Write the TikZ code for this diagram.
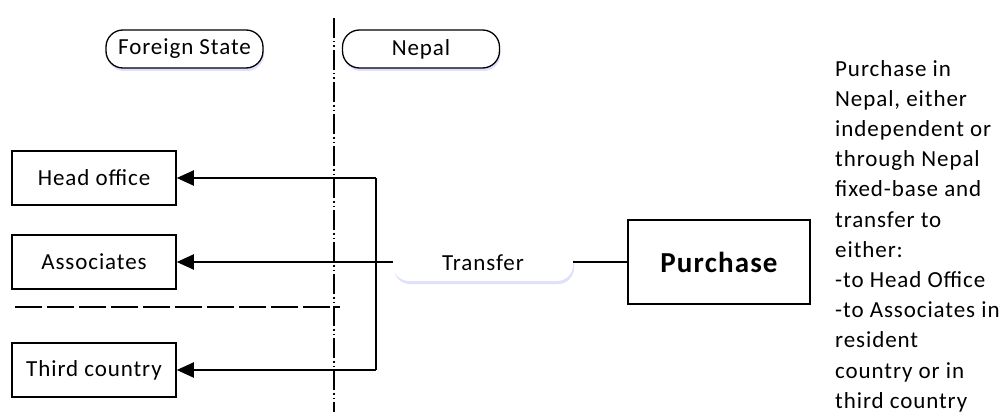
\documentclass[tikz,border=0pt]{standalone}
\usepackage{fontspec}
\setmainfont{Carlito}[LetterSpace=4]
\usetikzlibrary{arrows.meta,shadows}
\begin{document}
\begin{tikzpicture}[x=1pt,y=-1pt,
  lbl/.style={font=\fontsize{23}{27.3}\selectfont},
  sqbox/.style={draw=black,line width=1.5pt,fill=white,minimum width=164pt,minimum height=54pt,inner sep=0pt,lbl},
  pill/.style={draw=black,line width=1.3pt,fill=white,rounded corners=17pt,minimum width=157pt,minimum height=38pt,inner sep=0pt,lbl,
    drop shadow={shadow xshift=1pt,shadow yshift=-3pt,fill=blue!25!white,opacity=0.5}},
  softpill/.style={fill=white,rounded corners=16pt,minimum width=180pt,minimum height=36pt,inner sep=0pt,lbl,
    drop shadow={shadow xshift=1pt,shadow yshift=-3pt,fill=blue!25!white,opacity=0.5}},
  conn/.style={line width=2pt,black},
  arr/.style={conn,-{Triangle[length=17pt,width=15pt]}},
  border/.style={line width=1.4pt,dash pattern=on 20pt off 3pt on 1.5pt off 3pt on 1.5pt off 3pt},
  sep/.style={line width=1.5pt,dash pattern=on 27pt off 5pt}
]
\useasboundingbox (0,0) rectangle (1004,412);
% vertical boundary
\coordinate (vtop) at (334,18);
\coordinate (vbot) at (334,412);
\draw[border] (vtop) -- (vbot);
% horizontal separator
\coordinate (hl) at (15,307);
\coordinate (hr) at (340,307);
\draw[sep] (hl) -- (hr);
% headers
\node[pill] (fs) at (184.5,49) {Foreign State};
\node[pill] (np) at (421,49) {Nepal};
% boxes
\node[sqbox] (head) at (94,178) {Head office};
\node[sqbox] (assoc) at (94,262) {Associates};
\node[sqbox] (third) at (94,370) {Third country};
\node[draw=black,line width=1.5pt,fill=white,minimum width=182pt,minimum height=84pt,inner sep=0pt,font=\fontsize{29}{34}\selectfont\bfseries] (purch) at (719,262) {Purchase};
\node[softpill] (transfer) at (483,263) {Transfer};
% connectors
\coordinate (jtop) at (376,178);
\coordinate (jbot) at (376,370);
\draw[conn] (jtop) -- (jbot);
\draw[arr] (jtop) -- (head.east);
\draw[arr] (jbot) -- (third.east);
\draw[arr] (transfer.west |- assoc.east) -- (assoc.east);
\draw[conn] (purch.west) -- (transfer.east |- purch.west);
% description
\node[font=\fontsize{23}{30.2}\selectfont,anchor=north west,inner sep=0pt,align=left] (desc) at (835,60) {Purchase in\\Nepal, either\\independent or\\through Nepal\\fixed-base and\\transfer to\\either:\\-to Head Office\\-to Associates in\\resident\\country or in\\third country};
\end{tikzpicture}
\end{document}
